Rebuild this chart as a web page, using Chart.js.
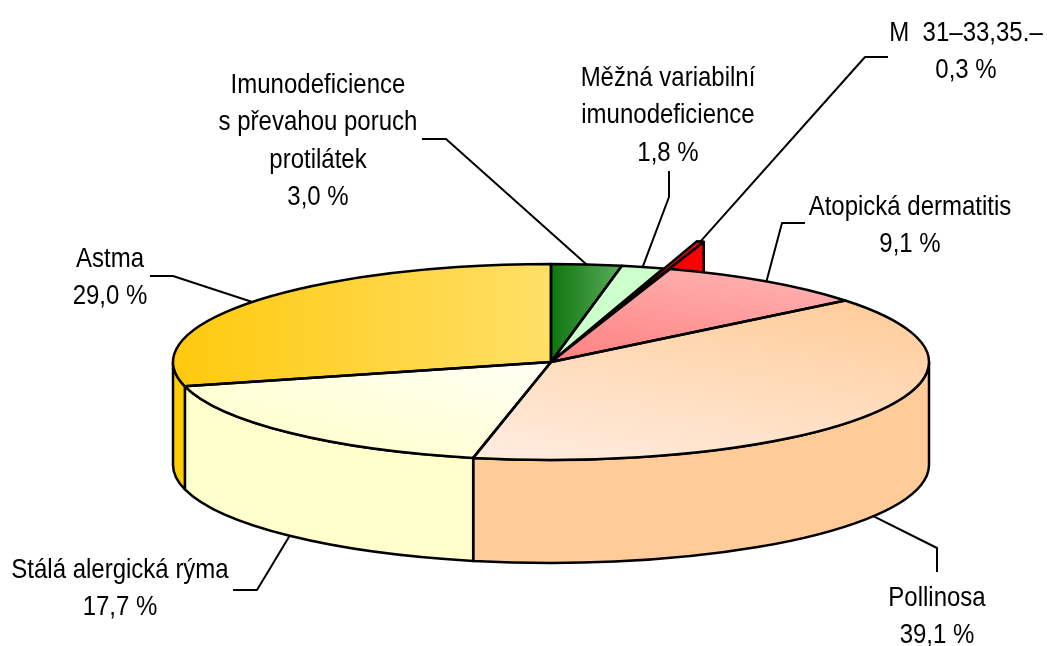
<!DOCTYPE html>
<html>
<head>
<meta charset="utf-8">
<script src="https://cdn.jsdelivr.net/npm/chart.js@4.4.0/dist/chart.umd.min.js"></script>
<style>
  html, body { margin: 0; padding: 0; background: #fff; }
</style>
</head>
<body>
<canvas id="pie3d" width="1047" height="646"></canvas>
<script>
// data
const labelLines = [
  ["Imunodeficience", "s převahou poruch", "protilátek"],
  ["Měžná variabilní", "imunodeficience"],
  ["M  31–33,35.–"],
  ["Atopická dermatitis"],
  ["Pollinosa"],
  ["Stálá alergická rýma"],
  ["Astma"]
];
const categories = labelLines.map(l => l.join(" "));
const shares = [3.0, 1.8, 0.3, 9.1, 39.1, 17.7, 29.0];
const explodedIndex = 2;

// styles
const sideColors = ["#137a13", "#b8f0b8", "#ff0000", "#ff8a8a", "#ffcc99", "#ffffcc", "#ffcc00"];
const topGradients = [
  { from: [551, 0], to: [622, 0], stops: ["#0e760e", "#5cad5c"] },
  { from: [600, 0], to: [660, 0], stops: ["#ccffcc", "#ccffcc"] },
  { from: [600, 0], to: [700, 0], stops: ["#ff0000", "#ff0000"] },
  { from: [570, 365], to: [800, 270], stops: ["#ff8080", "#ffb3b3"] },
  { from: [480, 455], to: [880, 300], stops: ["#ffecdf", "#ffcc99"] },
  { from: [520, 365], to: [230, 440], stops: ["#fffff2", "#ffffcc"] },
  { from: [175, 0], to: [551, 0], stops: ["#ffc90e", "#ffe066"] }
];

// where the flattened pie sits on the page
const CX = 551, CY = 362, RX = 378, RY = 98, DEPTH = 103, EXPLODE = 110;

// label text centre / first baseline, and leader line knee + end
const labelLayout = [
  { x: 318, y: 93, knee: [446, 139], end: [422, 139] },
  { x: 668, y: 86, knee: [669, 197], end: [669, 171] },
  { x: 966, y: 41, knee: [865, 57], end: [888, 57] },
  { x: 910, y: 215, knee: [782, 223], end: [805, 223] },
  { x: 937, y: 606, knee: [937, 548], end: [937, 572] },
  { x: 120, y: 578, knee: [257, 590], end: [233, 590] },
  { x: 110, y: 267, knee: [173, 276], end: [150, 276] }
];
const LINE_GAP = 37.3;

function pieGeom(chart) {
  const ca = chart.chartArea;
  const ctrl = chart.getDatasetMeta(0).controller;
  return { pcx: (ca.left + ca.right) / 2, pcy: (ca.top + ca.bottom) / 2, R: ctrl.outerRadius };
}
function toPie(X, Y, g) {
  return [g.pcx + (X - CX) * g.R / RX, g.pcy + (Y - CY) * g.R / RY];
}
function applyFlatten(ctx, g) {
  ctx.translate(CX, CY);
  ctx.scale(RX / g.R, RY / g.R);
  ctx.translate(-g.pcx, -g.pcy);
}
function screenCenter(el, g) {
  return [CX + (el.x - g.pcx) * RX / g.R, CY + (el.y - g.pcy) * RY / g.R];
}
function topFill(c) {
  const i = c.dataIndex;
  if (i === undefined) return "#ccc";
  const spec = topGradients[i];
  const chart = c.chart;
  if (!chart.chartArea || !chart.getDatasetMeta(0).controller.outerRadius) return spec.stops[1];
  const g = pieGeom(chart);
  const a = toPie(spec.from[0], spec.from[1], g), b = toPie(spec.to[0], spec.to[1], g);
  const grad = chart.ctx.createLinearGradient(a[0], a[1], b[0], b[1]);
  grad.addColorStop(0, spec.stops[0]);
  grad.addColorStop(1, spec.stops[1]);
  return grad;
}

const pie3dPlugin = {
  id: "pie3d",
  beforeDatasetsDraw(chart) {
    const ctx = chart.ctx;
    const meta = chart.getDatasetMeta(0);
    const g = pieGeom(chart);

    // pull the small slice out of the pie
    meta.data.forEach((el, i) => {
      el.x = g.pcx;
      el.y = g.pcy;
      if (i === explodedIndex) {
        const mid = (el.startAngle + el.endAngle) / 2;
        el.x += Math.cos(mid) * EXPLODE * g.R / RX;
        el.y += Math.sin(mid) * EXPLODE * g.R / RX;
      }
    });

    ctx.save();
    ctx.lineWidth = 2.5;
    ctx.strokeStyle = "#000";
    ctx.lineJoin = "round";

    // cut face of the pulled-out slice
    const ex = meta.data[explodedIndex];
    const c = screenCenter(ex, g);
    const a = ex.endAngle;
    const tip = [c[0] + RX * Math.cos(a), c[1] + RY * Math.sin(a)];
    ctx.beginPath();
    ctx.moveTo(c[0], c[1]);
    ctx.lineTo(tip[0], tip[1]);
    ctx.lineTo(tip[0], tip[1] + DEPTH);
    ctx.lineTo(c[0], c[1] + DEPTH);
    ctx.closePath();
    ctx.fillStyle = sideColors[explodedIndex];
    ctx.fill();
    ctx.stroke();

    // front walls
    meta.data.forEach((el, i) => {
      if (i === explodedIndex) return;
      const s = Math.max(el.startAngle, 0), e = Math.min(el.endAngle, Math.PI);
      if (e <= s) return;
      ctx.beginPath();
      ctx.ellipse(CX, CY, RX, RY, 0, s, e);
      ctx.lineTo(CX + RX * Math.cos(e), CY + DEPTH + RY * Math.sin(e));
      ctx.ellipse(CX, CY + DEPTH, RX, RY, 0, e, s, true);
      ctx.closePath();
      ctx.fillStyle = sideColors[i];
      ctx.fill();
      ctx.stroke();
    });
    ctx.restore();

    // top faces are drawn by Chart.js, squashed into an ellipse
    ctx.save();
    applyFlatten(ctx, g);
  },
  afterDatasetsDraw(chart) {
    const ctx = chart.ctx;
    ctx.restore();
    const meta = chart.getDatasetMeta(0);
    const g = pieGeom(chart);

    // outlines with an even pen
    ctx.save();
    ctx.lineWidth = 2.5;
    ctx.strokeStyle = "#000";
    ctx.lineJoin = "round";
    meta.data.forEach(el => {
      ctx.save();
      applyFlatten(ctx, g);
      ctx.beginPath();
      ctx.moveTo(el.x, el.y);
      ctx.arc(el.x, el.y, el.outerRadius, el.startAngle, el.endAngle);
      ctx.closePath();
      ctx.restore();
      ctx.stroke();
    });

    // leader lines
    ctx.lineWidth = 2;
    meta.data.forEach((el, i) => {
      const c = screenCenter(el, g);
      const mid = (el.startAngle + el.endAngle) / 2;
      let ax = c[0] + RX * Math.cos(mid), ay = c[1] + RY * Math.sin(mid);
      if (Math.sin(mid) > 0) ay += DEPTH;
      const L = labelLayout[i];
      ctx.beginPath();
      ctx.moveTo(L.end[0], L.end[1]);
      ctx.lineTo(L.knee[0], L.knee[1]);
      ctx.lineTo(ax, ay);
      ctx.stroke();
    });

    // labels
    ctx.fillStyle = "#000";
    ctx.textAlign = "center";
    ctx.textBaseline = "alphabetic";
    ctx.font = '24px "Liberation Sans", Arial, sans-serif';
    labelLines.forEach((lines, i) => {
      const L = labelLayout[i];
      const all = lines.concat([shares[i].toFixed(1).replace(".", ",") + " %"]);
      all.forEach((t, j) => {
        ctx.save();
        ctx.translate(L.x, L.y + j * LINE_GAP);
        ctx.scale(1, 1.17);
        ctx.fillText(t, 0, 0);
        ctx.restore();
      });
    });
    ctx.restore();
  }
};

new Chart(document.getElementById("pie3d"), {
  type: "pie",
  data: {
    labels: categories,
    datasets: [{
      data: shares,
      backgroundColor: topFill,
      borderWidth: 0,
      clip: false
    }]
  },
  options: {
    responsive: false,
    animation: false,
    events: [],
    devicePixelRatio: 1,
    layout: { padding: 0 },
    plugins: {
      legend: { display: false },
      tooltip: { enabled: false }
    }
  },
  plugins: [pie3dPlugin]
});
</script>
</body>
</html>
